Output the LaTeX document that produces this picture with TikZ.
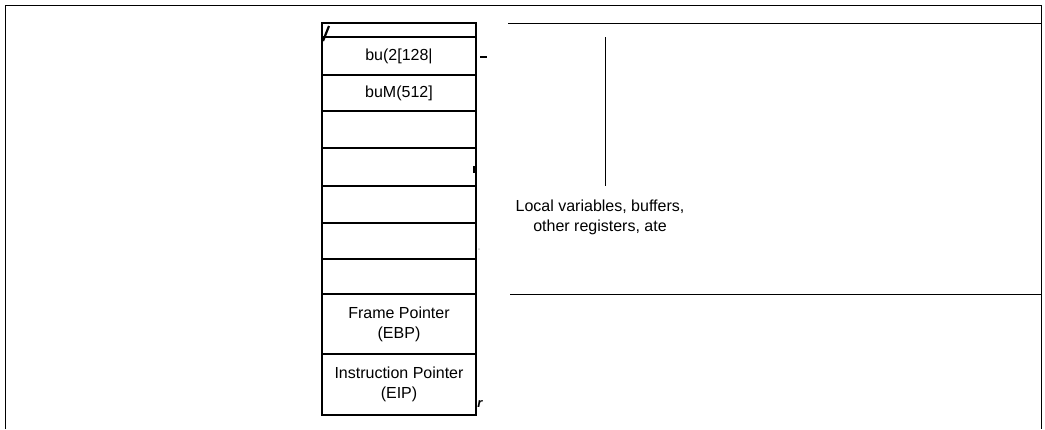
\documentclass[tikz,border=0pt]{standalone}
\usepackage{fontspec}
\setmainfont{Liberation Sans}
\usepackage{tikz}
\usetikzlibrary{positioning, calc}

\begin{document}
\begin{tikzpicture}[
    x=1pt, y=-1pt,
    cell/.style={
        rectangle, draw=black, line width=1.1pt,
        minimum width=154pt, inner sep=0pt, outer sep=0pt,
        align=center, font=\fontsize{16}{20}\selectfont,
    },
    note/.style={align=center, font=\fontsize{16}{20}\selectfont},
    frameline/.style={draw=black, line width=1pt},
    stray/.style={line width=2.2pt, line cap=butt},
]
\useasboundingbox (0,0) rectangle (1045,429);

% Outer frame (open at bottom)
\draw[frameline] (5,429) -- (5,5) -- (1041,5) -- (1041,429);

% Stack cells
\node[cell, minimum height=14pt] (c0) at (399,30)    {};
\node[cell, minimum height=38pt] (c1) at (399,56)    {bu(2[128|};
\node[cell, minimum height=36pt] (c2) at (399,93)    {buM(512]};
\node[cell, minimum height=37pt] (c3) at (399,129.5) {};
\node[cell, minimum height=38pt] (c4) at (399,167)   {};
\node[cell, minimum height=37pt] (c5) at (399,204.5) {};
\node[cell, minimum height=36pt] (c6) at (399,241)   {};
\node[cell, minimum height=35pt] (c7) at (399,276.5) {};
\node[cell, minimum height=60pt] (c8) at (399,324)   {Frame Pointer\\(EBP)};
\node[cell, minimum height=61pt] (c9) at (399,384.5) {Instruction Pointer\\(EIP)};

% Bracket for the local area
\coordinate (bt) at (508,23);
\coordinate (bb) at (510,294);
\coordinate (vt) at (605,37);
\coordinate (vb) at (605,186);
\draw[frameline] (bt) -- (bt -| 1041,0);
\draw[frameline] (bb) -- (bb -| 1041,0);
\draw[frameline] (vt) -- (vb);
\node[note] (loc) at (600,217) {Local variables, buffers,\\other registers, ate};

% Stray marks
\draw[stray] (c0.south west) ++(1,4) -- ++(6,-15);
\draw[stray] (c1.east) ++(4,1) -- ++(7,0);
\draw[stray] (c4.east) ++(-2,-1) -- ++(0,7);
\fill[gray!40] (c6.east) ++(3,8) circle (1);
\node[font=\bfseries\itshape\fontsize{13}{14}\selectfont, inner sep=0pt]
    (rr) at (480,404) {r};

\end{tikzpicture}
\end{document}
